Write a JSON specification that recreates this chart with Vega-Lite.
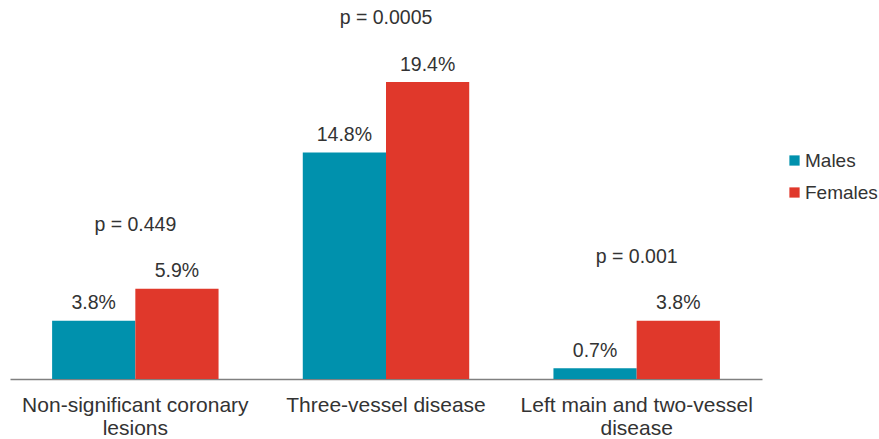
{
  "$schema": "https://vega.github.io/schema/vega-lite/v6.json",
  "autosize": {"type": "none"},
  "width": 752,
  "height": 379,
  "padding": {"left": 10, "top": 0, "right": 117, "bottom": 60},
  "background": "white",
  "config": {
    "view": {"stroke": null},
    "font": "Liberation Sans",
    "text": {"font": "Liberation Sans", "fontSize": 19.5, "fill": "#333333"}
  },
  "data": {
    "values": [
      {"category": "Non-significant coronary|lesions", "sex": "Males", "value": 0.038, "p": "p = 0.449"},
      {"category": "Non-significant coronary|lesions", "sex": "Females", "value": 0.059, "p": "p = 0.449"},
      {"category": "Three-vessel disease", "sex": "Males", "value": 0.148, "p": "p = 0.0005"},
      {"category": "Three-vessel disease", "sex": "Females", "value": 0.194, "p": "p = 0.0005"},
      {"category": "Left main and two-vessel|disease", "sex": "Males", "value": 0.007, "p": "p = 0.001"},
      {"category": "Left main and two-vessel|disease", "sex": "Females", "value": 0.038, "p": "p = 0.001"}
    ]
  },
  "encoding": {
    "x": {
      "field": "category",
      "type": "nominal",
      "sort": null,
      "scale": {"paddingInner": 0.336, "paddingOuter": 0.168},
      "axis": {
        "title": null,
        "labelAngle": 0,
        "ticks": false,
        "domainColor": "#808080",
        "domainWidth": 1.5,
        "labelFont": "Liberation Sans",
        "labelFontSize": 21,
        "labelColor": "#333333",
        "labelPadding": 15,
        "labelLineHeight": 23,
        "labelLimit": 0,
        "labelExpr": "split(datum.label, '|')"
      }
    }
  },
  "layer": [
    {
      "mark": {"type": "bar"},
      "encoding": {
        "xOffset": {"field": "sex", "type": "nominal", "sort": ["Males", "Females"], "scale": {"paddingInner": 0, "paddingOuter": 0}},
        "y": {"field": "value", "type": "quantitative", "scale": {"domain": [0, 0.2476], "nice": false, "zero": true}, "axis": null},
        "color": {
          "field": "sex",
          "type": "nominal",
          "sort": ["Males", "Females"],
          "scale": {"domain": ["Males", "Females"], "range": ["#0091ad", "#e0382b"]},
          "legend": {
            "title": null,
            "orient": "none",
            "legendX": 775,
            "legendY": 151,
            "symbolType": "square",
            "symbolSize": 105,
            "symbolStrokeWidth": 0,
            "labelFont": "Liberation Sans",
            "labelFontSize": 19,
            "labelColor": "#333333",
            "labelOffset": 1,
            "labelLimit": 0,
            "rowPadding": 12
          }
        }
      }
    },
    {
      "mark": {"type": "text", "baseline": "alphabetic", "dy": -11.5},
      "encoding": {
        "xOffset": {"field": "sex", "type": "nominal", "sort": ["Males", "Females"]},
        "y": {"field": "value", "type": "quantitative"},
        "text": {"field": "value", "type": "quantitative", "format": ".1%"}
      }
    },
    {
      "transform": [{"aggregate": [{"op": "max", "field": "value", "as": "maxv"}], "groupby": ["category", "p"]}],
      "mark": {"type": "text", "baseline": "alphabetic", "dy": -58},
      "encoding": {
        "y": {"field": "maxv", "type": "quantitative"},
        "text": {"field": "p", "type": "nominal"}
      }
    }
  ]
}
